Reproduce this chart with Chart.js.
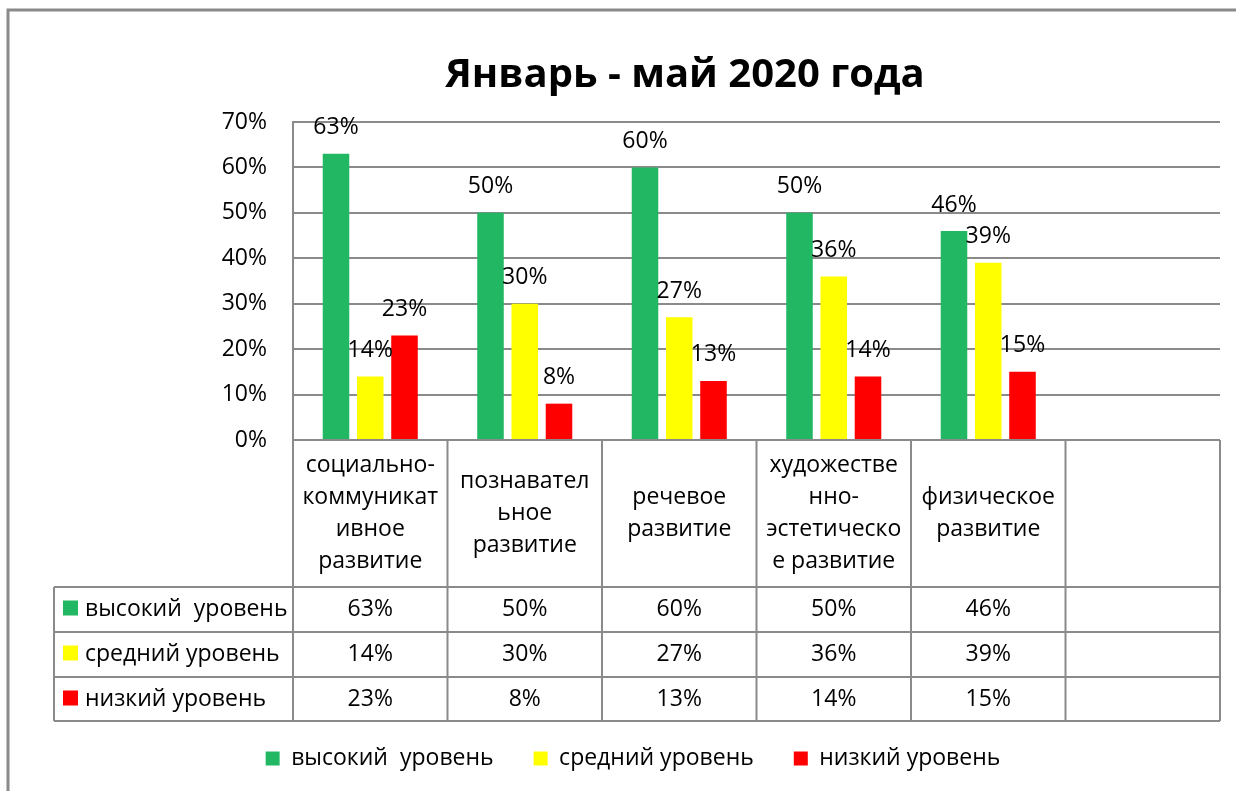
<!DOCTYPE html>
<html>
<head>
<meta charset="utf-8">
<script src="https://cdn.jsdelivr.net/npm/chart.js@4"></script>
<style>
  body { margin: 0; background: #fff; }
  #wrap { width: 1236px; height: 791px; }
</style>
</head>
<body>
<div id="wrap"><canvas id="chart" width="1236" height="791"></canvas></div>
<script>
// --- Data ---
const categories = [
    ['социально-', 'коммуникат', 'ивное', 'развитие'],
    ['познавател', 'ьное', 'развитие'],
    ['речевое', 'развитие'],
    ['художестве', 'нно-', 'эстетическо', 'е развитие'],
    ['физическое', 'развитие'],
    ['']
];
const seriesNames = ['высокий  уровень', 'средний уровень', 'низкий уровень'];
const highLevel = [63, 50, 60, 50, 46, null];
const midLevel = [14, 30, 27, 36, 39, null];
const lowLevel = [23, 8, 13, 14, 15, null];
const yTicks = [0, 10, 20, 30, 40, 50, 60, 70];
const chartTitle = 'Январь - май 2020 года';

const COLORS = ['#22B863', '#FFFF00', '#FF0000'];
const LINE = '#8a8a8a';
const FONT = '"Open Sans", sans-serif';

Chart.defaults.font.family = FONT;
Chart.defaults.color = '#000';

// --- Plugins ---
// outer frame (cut off at right and bottom like the source) + title
const framePlugin = {
    id: 'frame',
    afterLayout(chart) {
        // legend sits a bit right of the canvas centre in the source
        chart.legend.left += 23;
        chart.legend.right += 23;
    },
    beforeDraw(chart) {
        const ctx = chart.ctx;
        ctx.save();
        ctx.fillStyle = '#fff';
        ctx.fillRect(0, 0, chart.width, chart.height);
        ctx.strokeStyle = LINE;
        ctx.lineWidth = 3;
        ctx.beginPath();
        ctx.moveTo(chart.width, 10);
        ctx.lineTo(8, 10);
        ctx.lineTo(8, chart.height);
        ctx.stroke();

        ctx.font = 'bold 40px ' + FONT;
        ctx.fillStyle = '#000';
        ctx.textAlign = 'center';
        ctx.textBaseline = 'middle';
        ctx.fillText(chartTitle, 685, 76);
        ctx.restore();
    }
};

// value labels above the bars
const valueLabels = {
    id: 'valueLabels',
    afterDatasetsDraw(chart) {
        const ctx = chart.ctx;
        ctx.save();
        ctx.font = '23px ' + FONT;
        ctx.fillStyle = '#000';
        ctx.textAlign = 'center';
        ctx.textBaseline = 'middle';
        chart.data.datasets.forEach((ds, i) => {
            chart.getDatasetMeta(i).data.forEach((bar, j) => {
                if (ds.data[j] == null) return;
                ctx.fillText(ds.data[j] + '%', bar.x, bar.y - 26);
            });
        });
        ctx.restore();
    }
};

// data table under the plot
const dataTable = {
    id: 'dataTable',
    afterDraw(chart) {
        const ctx = chart.ctx;
        const area = chart.chartArea;
        const n = chart.data.labels.length;
        const colW = (area.right - area.left) / n;
        const top = area.bottom;
        const headBottom = top + 147;
        const rowH = 45;
        const tableBottom = headBottom + rowH * 3 - 1;
        const tableLeft = 54;

        ctx.save();
        ctx.strokeStyle = LINE;
        ctx.lineWidth = 2;
        ctx.beginPath();
        // vertical lines
        for (let i = 0; i <= n; i++) {
            const x = area.left + colW * i;
            ctx.moveTo(x, top);
            ctx.lineTo(x, tableBottom);
        }
        ctx.moveTo(tableLeft, headBottom);
        ctx.lineTo(tableLeft, tableBottom);
        // horizontal lines
        ctx.moveTo(area.left, top);
        ctx.lineTo(area.right, top);
        for (let r = 0; r <= 3; r++) {
            const y = r === 3 ? tableBottom : headBottom + rowH * r;
            ctx.moveTo(tableLeft, y);
            ctx.lineTo(area.right, y);
        }
        ctx.stroke();

        ctx.font = '23px ' + FONT;
        ctx.fillStyle = '#000';
        ctx.textBaseline = 'middle';
        ctx.textAlign = 'center';
        // category header
        const lineH = 32;
        chart.data.labels.forEach((lines, i) => {
            const cx = area.left + colW * (i + 0.5);
            const cy = (top + headBottom) / 2;
            const y0 = cy - (lines.length - 1) * lineH / 2;
            lines.forEach((t, k) => ctx.fillText(t, cx, y0 + k * lineH));
        });
        // series rows
        chart.data.datasets.forEach((ds, r) => {
            const cy = headBottom + rowH * r + rowH / 2;
            ctx.fillStyle = ds.backgroundColor;
            ctx.fillRect(63, cy - 9, 15, 15);
            ctx.fillStyle = '#000';
            ctx.textAlign = 'left';
            ctx.fillText(ds.label, 85, cy);
            ctx.textAlign = 'center';
            ds.data.forEach((v, j) => {
                if (v == null) return;
                ctx.fillText(v + '%', area.left + colW * (j + 0.5), cy);
            });
        });
        ctx.restore();
    }
};

const ctx = document.getElementById('chart').getContext('2d');
new Chart(ctx, {
    type: 'bar',
    data: {
        labels: categories,
        datasets: [
            { label: seriesNames[0], data: highLevel, backgroundColor: COLORS[0] },
            { label: seriesNames[1], data: midLevel, backgroundColor: COLORS[1] },
            { label: seriesNames[2], data: lowLevel, backgroundColor: COLORS[2] }
        ]
    },
    options: {
        responsive: false,
        animation: false,
        layout: { padding: { left: 0, right: 16, top: 122, bottom: 11 } },
        datasets: { bar: { categoryPercentage: 0.665, barPercentage: 0.775 } },
        scales: {
            x: {
                ticks: { display: false },
                grid: { display: false },
                border: { display: false },
                afterFit: s => { s.height = 267; }
            },
            y: {
                min: 0,
                max: 70,
                afterBuildTicks: s => { s.ticks = yTicks.map(v => ({ value: v })); },
                ticks: { font: { size: 23 }, padding: 26, callback: v => v + '%' },
                grid: { color: LINE, lineWidth: 2, drawTicks: false },
                border: { color: LINE, width: 2 },
                afterFit: s => { s.width = 293; }
            }
        },
        plugins: {
            title: { display: false },
            legend: {
                position: 'bottom',
                labels: { boxWidth: 14, boxHeight: 14, padding: 40, font: { size: 23 } }
            },
            tooltip: { enabled: false }
        }
    },
    plugins: [framePlugin, valueLabels, dataTable]
});
</script>
</body>
</html>
